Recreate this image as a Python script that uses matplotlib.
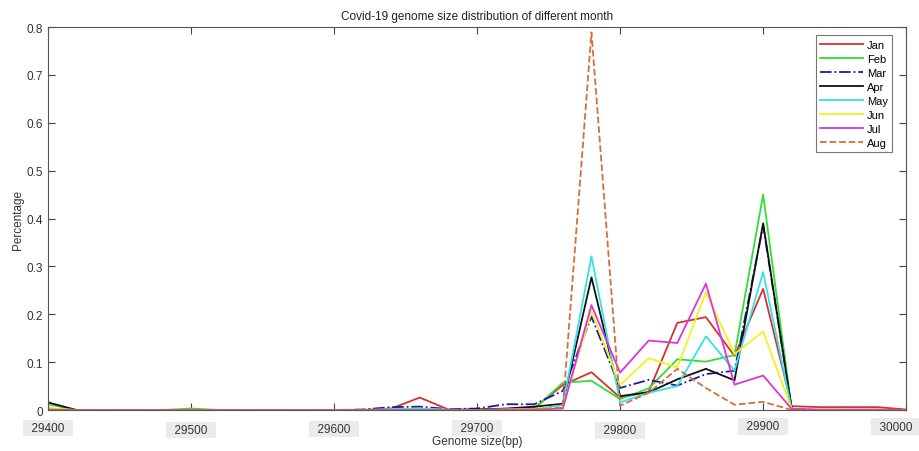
import numpy as np
import matplotlib
matplotlib.use('Agg')
import matplotlib.pyplot as plt

plt.rcParams['font.family'] = ['Liberation Sans', 'DejaVu Sans']

### data (genome size every 20 bp) ###
sizes = list(range(29400, 30001, 20))
months = ['Jan', 'Feb', 'Mar', 'Apr', 'May', 'Jun', 'Jul', 'Aug']

jan = [0.002, 0, 0, 0, 0, 0, 0, 0, 0, 0, 0, 0, 0.003, 0.026, 0.001, 0.001,
       0.001, 0.004, 0.052, 0.079, 0.026, 0.038, 0.182, 0.194, 0.113, 0.253,
       0.008, 0.006, 0.006, 0.006, 0.001]
feb = [0.012, 0, 0, 0, 0, 0.003, 0, 0, 0, 0, 0, 0, 0, 0, 0, 0,
       0.001, 0.002, 0.057, 0.061, 0.023, 0.045, 0.106, 0.101, 0.115, 0.450,
       0.001, 0, 0, 0, 0]
mar = [0.003, 0, 0, 0, 0, 0, 0, 0, 0, 0, 0, 0.001, 0.006, 0.007, 0.002, 0.003,
       0.012, 0.012, 0.040, 0.195, 0.046, 0.063, 0.051, 0.075, 0.082, 0.385,
       0.002, 0, 0, 0, 0]
apr = [0.016, 0, 0, 0, 0, 0, 0, 0, 0, 0, 0, 0, 0, 0, 0, 0.001,
       0.003, 0.007, 0.013, 0.277, 0.029, 0.037, 0.064, 0.086, 0.062, 0.390,
       0.001, 0, 0, 0, 0]
may = [0.002, 0, 0, 0, 0, 0, 0, 0, 0, 0, 0, 0, 0.002, 0.003, 0.001, 0,
       0.001, 0.002, 0.010, 0.321, 0.016, 0.036, 0.050, 0.154, 0.082, 0.288,
       0.001, 0, 0, 0, 0]
jun = [0.004, 0, 0, 0, 0, 0, 0, 0, 0, 0, 0, 0, 0, 0, 0, 0,
       0.001, 0.002, 0.005, 0.206, 0.052, 0.108, 0.089, 0.246, 0.117, 0.164,
       0.001, 0, 0, 0, 0]
jul = [0.001, 0, 0, 0, 0, 0, 0, 0, 0, 0, 0, 0, 0, 0, 0, 0,
       0.001, 0.001, 0.003, 0.219, 0.078, 0.145, 0.140, 0.264, 0.053, 0.072,
       0.002, 0.001, 0.001, 0.001, 0]
aug = [0, 0, 0, 0, 0, 0, 0, 0, 0, 0, 0, 0, 0, 0, 0, 0,
       0, 0.001, 0.005, 0.789, 0.009, 0.036, 0.086, 0.046, 0.011, 0.017,
       0, 0, 0, 0, 0]

xticks = [29400, 29500, 29600, 29700, 29800, 29900, 30000]
yticks = [0, 0.1, 0.2, 0.3, 0.4, 0.5, 0.6, 0.7, 0.8]

series = [jan, feb, mar, apr, may, jun, jul, aug]
colors = ['#d83030', '#33dd33', '#1a1aa6', '#111111', '#33e3e3', '#f2f21e', '#dd33dd', '#d2703a']
styles = ['-', '-', '-.', '-', '-', '-', '-', '--']

fig = plt.figure(figsize=(9.2, 4.52), dpi=100)
ax = fig.add_axes([0.052, 0.0907, 0.933, 0.8473])

for vals, name, c, ls in zip(series, months, colors, styles):
    ax.plot(sizes, vals, ls, color=c, lw=1.3, label=name)

ax.set_xlim(29400, 30000)
ax.set_ylim(0, 0.8)
ax.set_yticks(yticks)
ax.set_yticklabels(['0', '0.1', '0.2', '0.3', '0.4', '0.5', '0.6', '0.7', '0.8'])
ax.set_xticks(xticks)
ax.set_xticklabels([])
ax.tick_params(direction='in', top=True, right=True, length=5, width=0.8,
               colors='#444444', labelcolor='#333333', labelsize=8.5)
for s in ax.spines.values():
    s.set_color('#555555')
    s.set_linewidth(0.8)

# x tick labels sit in grey boxes, a bit staggered (scanned figure)
lab_pos = [(29400, -0.047), (29500, -0.052), (29600, -0.0496), (29700, -0.047),
           (29800, -0.0535), (29900, -0.043), (29993, -0.044)]
for xv, (px, yy) in zip(xticks, lab_pos):
    ax.text(px, yy, '  ' + str(xv) + '  ', transform=ax.get_xaxis_transform(),
            ha='center', va='center', fontsize=8.5, color='#333333',
            bbox=dict(boxstyle='square,pad=0.2', fc='#ebebeb', ec='none'))

ax.text(0.5, -0.08, 'Genome size(bp)', transform=ax.transAxes, ha='center', va='center',
        fontsize=8.5, color='#333333')
ax.set_ylabel('Percentage', fontsize=8.5, color='#333333', labelpad=2)
ax.set_title('Covid-19 genome size distribution of different month', fontsize=8.5,
             color='#222222', pad=6)

leg = ax.legend(loc='upper right', bbox_to_anchor=(0.984, 0.979), fontsize=8,
                fancybox=False, handlelength=3.8, labelspacing=0.36,
                borderpad=0.4, handletextpad=0.4, borderaxespad=0)
leg.get_frame().set_edgecolor('#555555')
leg.get_frame().set_linewidth(0.8)

plt.savefig('out.png', dpi=100)
